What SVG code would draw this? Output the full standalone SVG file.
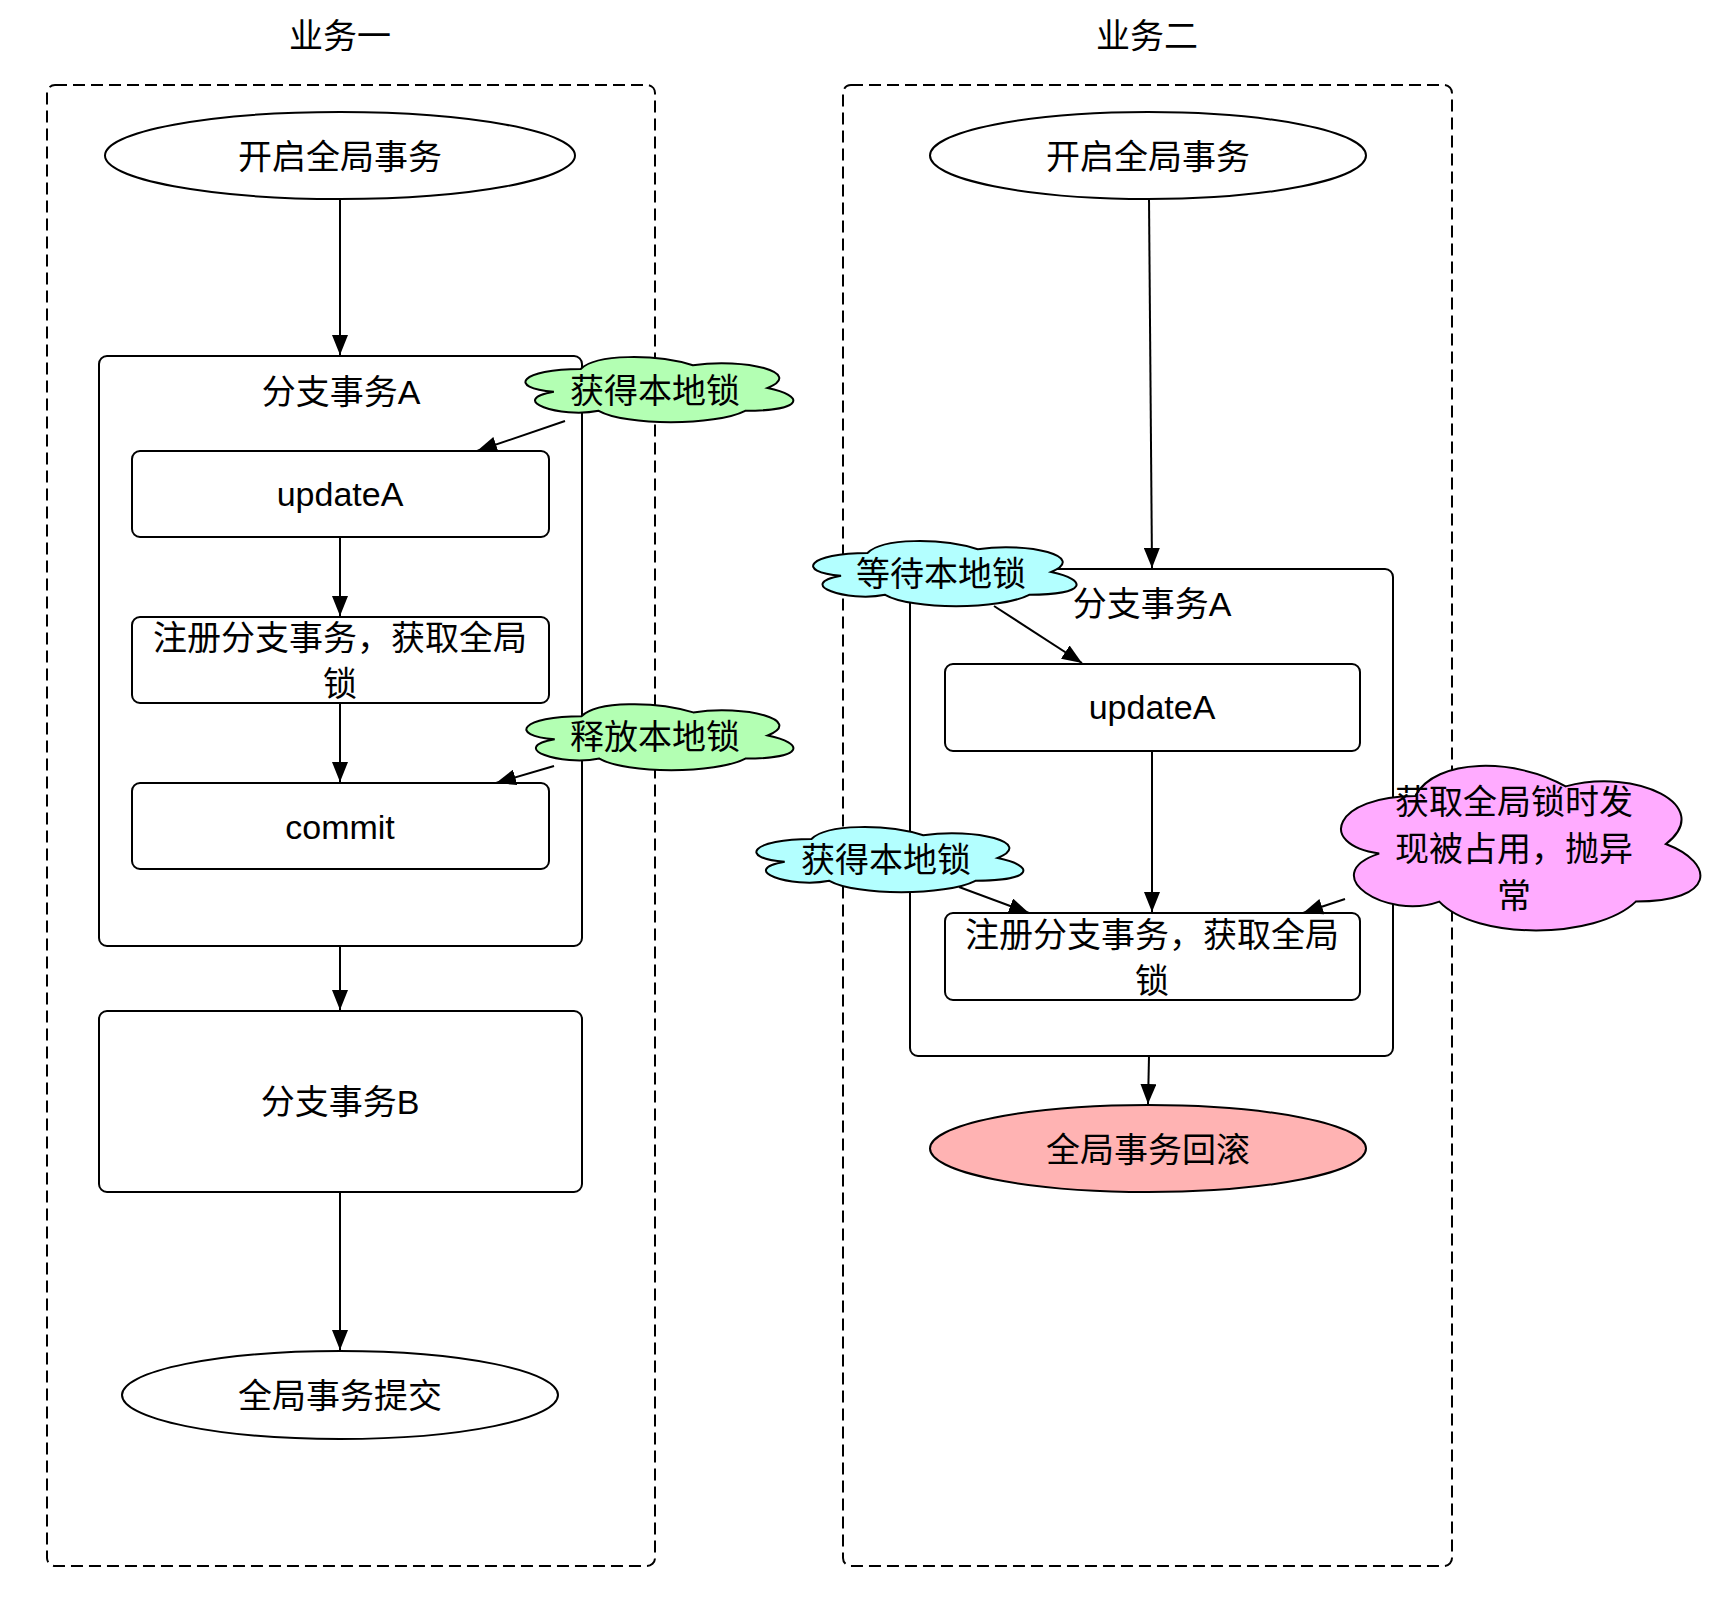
<svg xmlns="http://www.w3.org/2000/svg" width="1720" height="1606" viewBox="0 0 1720 1606">
<defs>
<style>
text{font-family:"Liberation Sans","Noto Sans CJK SC",sans-serif;font-size:34px;fill:#000;text-anchor:middle;dominant-baseline:central}
.group{fill:none;stroke:#000;stroke-width:2;stroke-dasharray:12 6}
.box{fill:#fff;stroke:#000;stroke-width:2}
.ell{fill:#fff;stroke:#000;stroke-width:2}
.green{fill:#B3FFB3;stroke:#000;stroke-width:2}
.cyan{fill:#B3FFFF;stroke:#000;stroke-width:2}
.pink{fill:#FFABFF;stroke:#000;stroke-width:2}
.edge{fill:none;stroke:#000;stroke-width:2;marker-end:url(#arrow)}
</style>
<marker id="arrow" markerUnits="userSpaceOnUse" markerWidth="20" markerHeight="16" refX="20" refY="8" orient="auto">
<path d="M0,0 L20,8 L0,16 Z" fill="#000"/>
</marker>
</defs>
<rect width="1720" height="1606" fill="#fff"/>

<g id="title1"><text x="340" y="36">业务一</text></g>
<g id="title2"><text x="1147" y="36">业务二</text></g>

<g id="lane1"><rect class="group" x="47" y="85" width="608" height="1481" rx="8"/></g>
<g id="lane2"><rect class="group" x="843" y="85" width="609" height="1481" rx="8"/></g>

<g id="start1"><ellipse class="ell" cx="340" cy="155.5" rx="235" ry="43.5"/><text x="340" y="157">开启全局事务</text></g>
<g id="branchA1"><rect class="box" x="99" y="356" width="483" height="590" rx="8"/><text x="341" y="392">分支事务A</text></g>
<g id="updateA1"><rect class="box" x="132" y="451" width="417" height="86" rx="8"/><text x="340" y="494">updateA</text></g>
<g id="register1"><rect class="box" x="132" y="617" width="417" height="86" rx="8"/><text x="340" y="638">注册分支事务，获取全局</text><text x="340" y="684">锁</text></g>
<g id="commit1"><rect class="box" x="132" y="783" width="417" height="86" rx="8"/><text x="340" y="827">commit</text></g>
<g id="branchB1"><rect class="box" x="99" y="1011" width="483" height="181" rx="8"/><text x="340" y="1102">分支事务B</text></g>
<g id="end1"><ellipse class="ell" cx="340" cy="1395" rx="218" ry="44"/><text x="340" y="1396">全局事务提交</text></g>

<g id="start2"><ellipse class="ell" cx="1148" cy="155.5" rx="218" ry="43.5"/><text x="1148" y="157">开启全局事务</text></g>
<g id="branchA2"><rect class="box" x="910" y="569" width="483" height="487" rx="8"/><text x="1152" y="604">分支事务A</text></g>
<g id="updateA2"><rect class="box" x="945" y="664" width="415" height="87" rx="8"/><text x="1152" y="707">updateA</text></g>
<g id="register2"><rect class="box" x="945" y="913" width="415" height="87" rx="8"/><text x="1152" y="935">注册分支事务，获取全局</text><text x="1152" y="981">锁</text></g>
<g id="end2"><ellipse cx="1148" cy="1148.5" rx="218" ry="43.5" fill="#FFB3B3" stroke="#000" stroke-width="2"/><text x="1148" y="1150">全局事务回滚</text></g>

<g id="connectors">
<path class="edge" d="M340,199 L340,355"/>
<path class="edge" d="M565,421 L477,451"/>
<path class="edge" d="M340,537 L340,616"/>
<path class="edge" d="M340,703 L340,782"/>
<path class="edge" d="M554,766 L496,783"/>
<path class="edge" d="M340,946 L340,1010"/>
<path class="edge" d="M340,1192 L340,1350"/>
<path class="edge" d="M1149,199 L1152,568"/>
<path class="edge" d="M994,606 L1082,663"/>
<path class="edge" d="M1152,751 L1152,912"/>
<path class="edge" d="M959,887 L1029,913"/>
<path class="edge" d="M1345,899 L1303,913"/>
<path class="edge" d="M1149,1056 L1148,1104"/>
</g>

<g id="cloudAcquire1"><path class="green" d="M580.75,369 C520.95,369 506,388 553.84,391.8 C506,400.16 559.82,418.4 598.69,410.8 C625.6,426 715.3,426 745.2,410.8 C805,410.8 805,395.6 767.63,388 C805,372.8 745.2,357.6 692.88,365.2 C655.5,353.8 595.7,353.8 580.75,369 Z"/><text x="655" y="391">获得本地锁</text></g>
<g id="cloudRelease1"><path class="green" d="M581.5,716.25 C521.9,716.25 507,735.5 554.68,739.35 C507,747.82 560.64,766.3 599.38,758.6 C626.2,774 715.6,774 745.4,758.6 C805,758.6 805,743.2 767.75,735.5 C805,720.1 745.4,704.7 693.25,712.4 C656,700.85 596.4,700.85 581.5,716.25 Z"/><text x="655" y="737">释放本地锁</text></g>
<g id="cloudWait2"><path class="cyan" d="M867.5,553 C808.7,553 794,572 841.04,575.8 C794,584.16 846.92,602.4 885.14,594.8 C911.6,610 999.8,610 1029.2,594.8 C1088,594.8 1088,579.6 1051.25,572 C1088,556.8 1029.2,541.6 977.75,549.2 C941,537.8 882.2,537.8 867.5,553 Z"/><text x="941" y="574">等待本地锁</text></g>
<g id="cloudAcquire2"><path class="cyan" d="M811.5,839 C751.9,839 737,858 784.68,861.8 C737,870.16 790.64,888.4 829.38,880.8 C856.2,896 945.6,896 975.4,880.8 C1035,880.8 1035,865.6 997.75,858 C1035,842.8 975.4,827.6 923.25,835.2 C886,823.8 826.4,823.8 811.5,839 Z"/><text x="886" y="860">获得本地锁</text></g>
<g id="cloudError2"><path class="pink" d="M1415.25,796 C1335.05,796 1315,844 1379.16,853.6 C1315,874.72 1387.18,920.8 1439.31,901.6 C1475.4,940 1595.7,940 1635.8,901.6 C1716,901.6 1716,863.2 1665.88,844 C1716,805.6 1635.8,767.2 1565.63,786.4 C1515.5,757.6 1435.3,757.6 1415.25,796 Z"/><text x="1514" y="802">获取全局锁时发</text><text x="1514" y="849">现被占用，抛异</text><text x="1514" y="896">常</text></g>
</svg>
